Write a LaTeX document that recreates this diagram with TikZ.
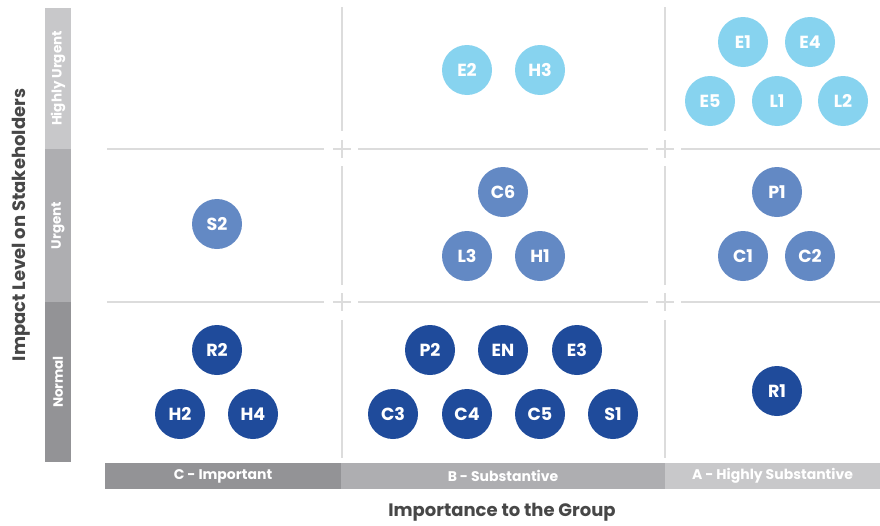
\documentclass[tikz,border=0pt]{standalone}
\usepackage{fontspec}
\setmainfont{Poppins}
\usepackage{xcolor}
\usetikzlibrary{positioning}
\definecolor{hiblue}{RGB}{135,211,239}
\definecolor{midblue}{RGB}{99,137,196}
\definecolor{loblue}{RGB}{31,75,155}
\definecolor{greyA}{RGB}{200,200,202}
\definecolor{greyB}{RGB}{174,174,177}
\definecolor{greyC}{RGB}{147,147,150}
\definecolor{gridgrey}{RGB}{220,220,220}

\begin{document}
\begin{tikzpicture}[
  x=1pt, y=-1pt,
  dot/.style={circle,minimum size=50pt,inner sep=0pt,text=white,font=\bfseries\fontsize{17.5}{17.5}\selectfont},
  hi/.style={dot,fill=hiblue},
  mid/.style={dot,fill=midblue},
  lo/.style={dot,fill=loblue},
  band/.style={inner sep=0pt,text=white,font=\bfseries\fontsize{14}{14}\selectfont,minimum height=26pt},
  vband/.style={band,rotate=90,font=\bfseries\fontsize{13.5}{13.5}\selectfont},
  gridline/.style={draw=gridgrey,line width=1.2pt},
  axis/.style={text=black!72,font=\bfseries\fontsize{18}{18}\selectfont},
]
  \useasboundingbox (0,0) rectangle (880,525);

  % grid with crosses
  \draw[gridline] (342,7) -- (342,131) (342,166) -- (342,285) (342,320) -- (342,458);
  \draw[gridline] (665,7) -- (665,131) (665,166) -- (665,285) (665,320) -- (665,458);
  \draw[gridline] (107,149) -- (324,149) (358,149) -- (648,149) (681,149) -- (880,149);
  \draw[gridline] (107,302) -- (324,302) (358,302) -- (648,302) (681,302) -- (880,302);
  \draw[gridline] (333,149) -- (351,149) (342,140) -- (342,158);
  \draw[gridline] (656,149) -- (674,149) (665,140) -- (665,158);
  \draw[gridline] (333,302) -- (351,302) (342,293) -- (342,311);
  \draw[gridline] (656,302) -- (674,302) (665,293) -- (665,311);

  % impact bands
  \node[vband,fill=greyA,minimum width=141pt] (hurgent) at (58,78.5) {Highly Urgent};
  \node[vband,fill=greyB,minimum width=153pt] (urgent) at (58,225.5) {Urgent};
  \node[vband,fill=greyC,minimum width=160pt] (normal) at (58,382) {Normal};
  \node[axis,rotate=90] (impact) at (21,225) {Impact Level on Stakeholders};

  % importance bands
  \node[band,fill=greyC,minimum width=236pt] (colC) at (223,476) {C - Important};
  \node[band,fill=greyB,minimum width=324pt] (colB) at (503,476) {B - Substantive};
  \node[band,fill=greyA,minimum width=215pt] (colA) at (772.5,476) {A - Highly Substantive};
  \node[axis] (importance) at (502,512) {Importance to the Group};

  % highly urgent
  \node[hi] (E2) at (467,70) {E2};
  \node[hi] (H3) at (540,70) {H3};
  \node[hi] (E1) at (743,42) {E1};
  \node[hi] (E4) at (810,42) {E4};
  \node[hi] (E5) at (710,101) {E5};
  \node[hi] (L1) at (777,101) {L1};
  \node[hi] (L2) at (843,101) {L2};

  % urgent
  \node[mid] (S2) at (217,224) {S2};
  \node[mid] (C6) at (503,192) {C6};
  \node[mid] (L3) at (467,256) {L3};
  \node[mid] (H1) at (540,256) {H1};
  \node[mid] (P1) at (777,192) {P1};
  \node[mid] (C1) at (743,256) {C1};
  \node[mid] (C2) at (810,256) {C2};

  % normal
  \node[lo] (R2) at (217,350) {R2};
  \node[lo] (H2) at (180,414) {H2};
  \node[lo] (H4) at (253,414) {H4};
  \node[lo] (P2) at (430,350) {P2};
  \node[lo] (EN) at (503,350) {EN};
  \node[lo] (E3) at (577,350) {E3};
  \node[lo] (C3) at (393,414) {C3};
  \node[lo] (C4) at (467,414) {C4};
  \node[lo] (C5) at (540,414) {C5};
  \node[lo] (S1) at (613,414) {S1};
  \node[lo] (R1) at (777,391) {R1};
\end{tikzpicture}
\end{document}
